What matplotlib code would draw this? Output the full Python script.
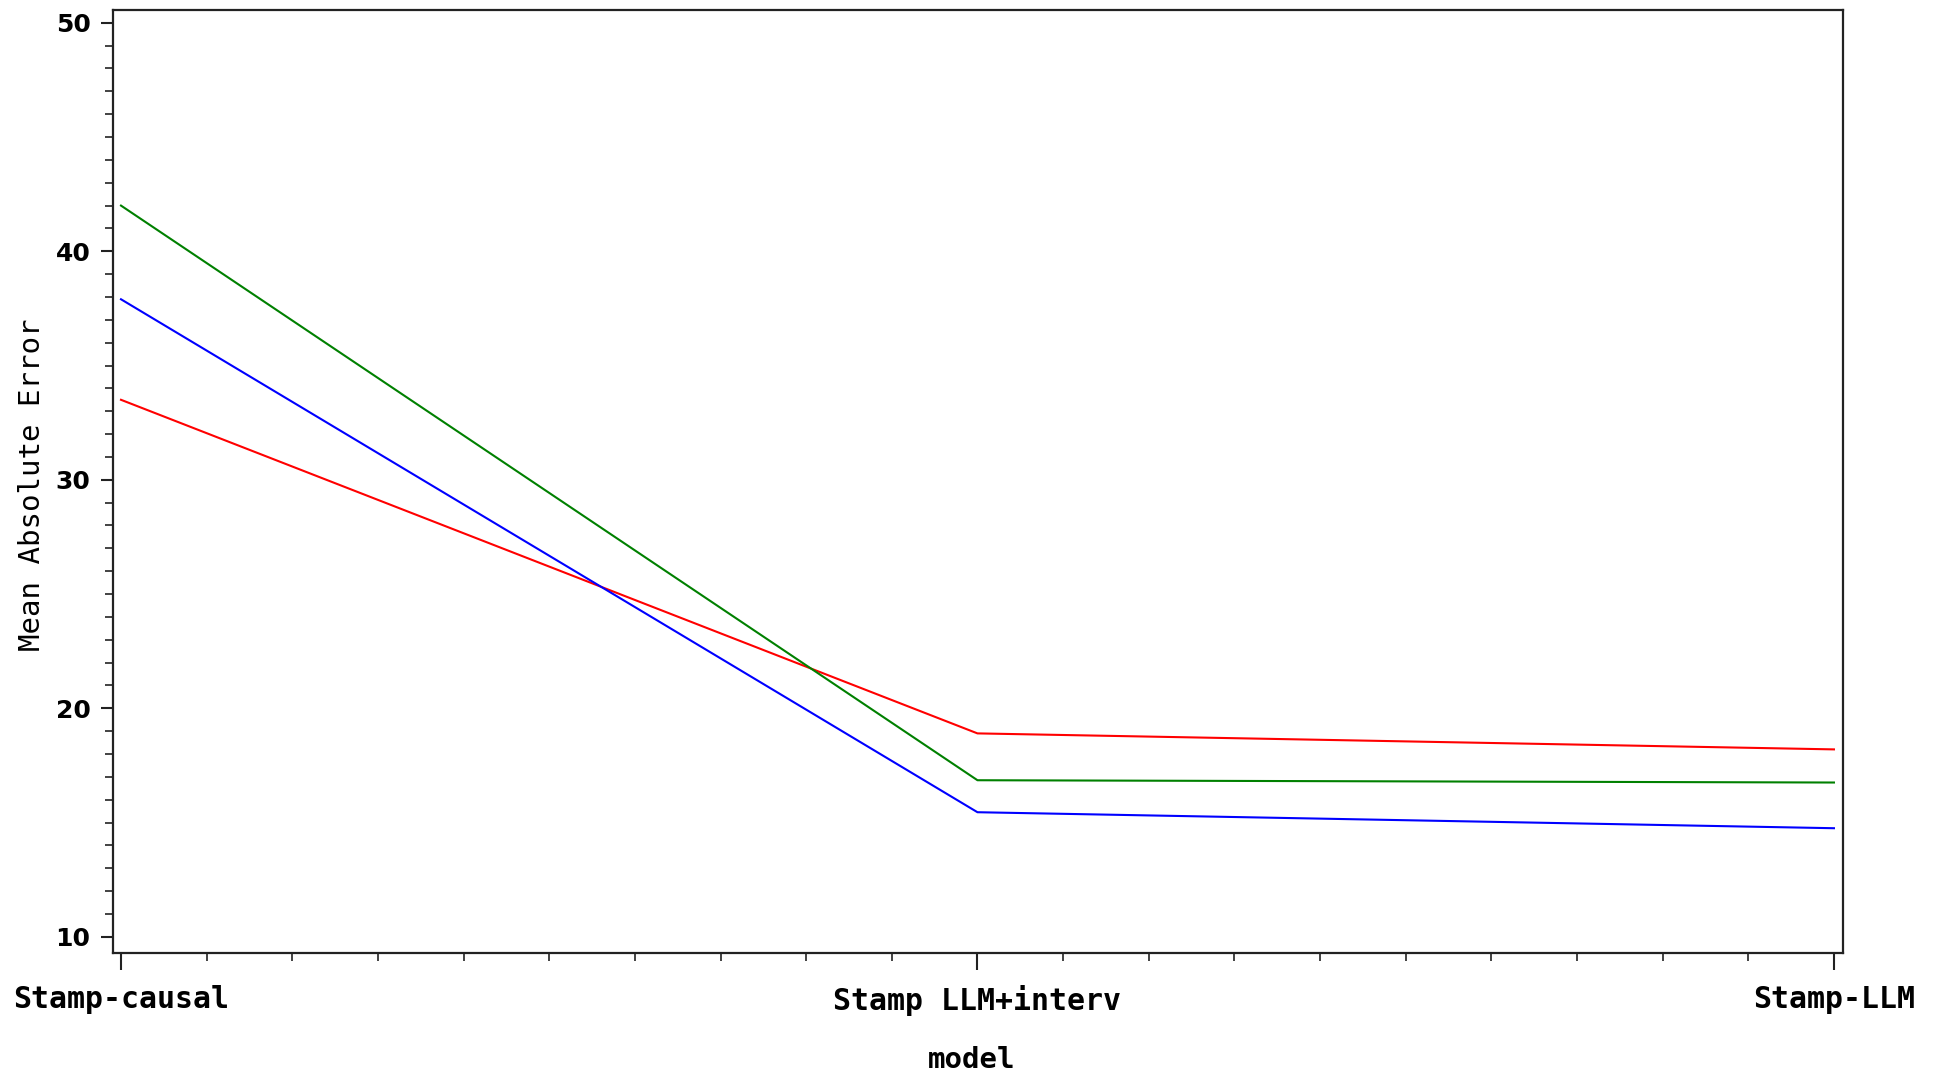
import matplotlib
matplotlib.use("Agg")
import matplotlib.pyplot as plt
from matplotlib.ticker import MultipleLocator, FixedLocator
import numpy as np

# Mean absolute error by model, one line per group
models = ["Stamp-causal", "Stamp LLM+interv", "Stamp-LLM"]
red_mae = [33.5, 18.9, 18.2]
green_mae = [42.0, 16.85, 16.75]
blue_mae = [37.9, 15.45, 14.75]

fig = plt.figure(figsize=(19.36, 10.74), dpi=100)
ax = fig.add_axes([0.0582, 0.1129, 0.8936, 0.8778])

x = np.arange(len(models))
ax.plot(x, red_mae, color="#ff0000", lw=1.5)
ax.plot(x, green_mae, color="#008000", lw=1.5)
ax.plot(x, blue_mae, color="#0000ff", lw=1.5)

ax.set_xlim(-0.0097, 2.0102)
ax.set_ylim(9.3, 50.56)

for s in ax.spines.values():
    s.set_linewidth(1.6)
    s.set_color("#222222")

ax.set_xticks(x)
ax.set_xticklabels(models, family="DejaVu Sans Mono", fontweight="bold", fontsize=21.5)
ax.xaxis.set_minor_locator(FixedLocator([v / 10 for v in range(21) if v % 10 != 0]))
ax.tick_params(axis="x", which="major", length=12, width=1.5, pad=11, color="#222222")
ax.tick_params(axis="x", which="minor", length=5.5, width=1.2, color="#222222")

ax.set_yticks([10, 20, 30, 40, 50])
ax.set_yticklabels(["10", "20", "30", "40", "50"], family="DejaVu Sans",
                   fontweight="bold", fontsize=18)
ax.yaxis.set_minor_locator(MultipleLocator(1))
ax.tick_params(axis="y", which="major", length=9, width=1.5, pad=7, color="#222222")
ax.tick_params(axis="y", which="minor", length=5.5, width=1.2, color="#222222")

fig.text(0.0165, 1 - 485 / 1074, "Mean Absolute Error", rotation=90,
         ha="center", va="center", family="DejaVu Sans Mono", fontsize=21)
fig.text(0.502, 1 - 1060 / 1074, "model", ha="center", va="center",
         family="DejaVu Sans Mono", fontweight="bold", fontsize=21)

fig.savefig("out.png", dpi=100)
